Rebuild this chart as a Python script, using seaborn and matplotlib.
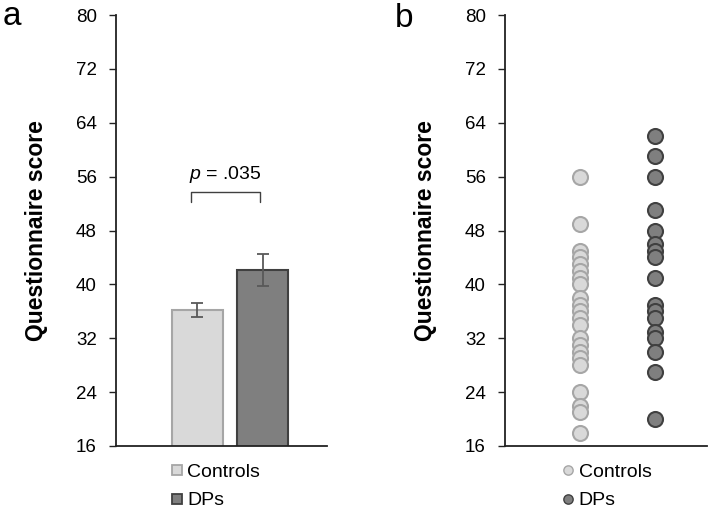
import numpy as np
import pandas as pd
import matplotlib
matplotlib.use("Agg")
import matplotlib.pyplot as plt
import seaborn as sns
from matplotlib.lines import Line2D

# Panel a: group means and standard errors
groups = ["Controls", "DPs"]
bar_means = [36.2, 42.1]
bar_sems = [1.1, 2.4]
p_label = ".035"

# Panel b: individual questionnaire scores
controls_scores = [56, 49, 45, 44, 43, 42, 41, 40, 38, 37, 36, 35, 34, 32,
                   31, 30, 29, 28, 24, 22, 21, 18]
dps_scores = [62, 59, 56, 51, 48, 46, 45, 44, 41, 37, 36, 35, 33, 32, 30, 27, 20]

y_ticks = list(range(16, 81, 8))

fill_colors = {"Controls": "#d9d9d9", "DPs": "#7f7f7f"}
edge_colors = {"Controls": "#a6a6a6", "DPs": "#404040"}

sns.set_style("white")
plt.rcParams["font.family"] = ["Liberation Sans", "DejaVu Sans"]
plt.rcParams["mathtext.fontset"] = "custom"
plt.rcParams["mathtext.it"] = "Liberation Sans:italic"
plt.rcParams["mathtext.rm"] = "Liberation Sans"
plt.rcParams["text.color"] = "black"
plt.rcParams["axes.labelcolor"] = "black"
plt.rcParams["ytick.color"] = "black"

W, H = 708, 508
fig = plt.figure(figsize=(W / 100, H / 100), dpi=100)
ax_a = fig.add_axes([116 / W, 1 - 446 / H, 211 / W, 431 / H])
ax_b = fig.add_axes([505 / W, 1 - 446 / H, 202 / W, 431 / H])


def style_axis(ax):
    ax.set_ylim(16, 80)
    ax.set_yticks(y_ticks)
    ax.tick_params(axis="y", left=True, direction="out", length=4.8, width=1,
                   pad=9, labelsize=13.5, color="#222222", labelcolor="black")
    ax.tick_params(axis="x", bottom=False, labelbottom=False)
    for side in ["top", "right"]:
        ax.spines[side].set_visible(False)
    for side in ["left", "bottom"]:
        ax.spines[side].set_color("#222222")
        ax.spines[side].set_linewidth(1.3)
    ax.set_xlabel("")
    ax.set_ylabel("Questionnaire score", fontsize=16.5, fontweight="bold",
                  color="black")


# ---- panel a: bars with error bars ----
df_bar = pd.DataFrame({"group": groups, "score": bar_means})
sns.barplot(data=df_bar, x="group", y="score", hue="group", ax=ax_a,
            palette=fill_colors, width=0.78, errorbar=None, legend=False)
for patch, g in zip(ax_a.patches, groups):
    patch.set_edgecolor(edge_colors[g])
    patch.set_linewidth(1.5)
ax_a.errorbar(x=np.arange(len(groups)), y=bar_means, yerr=bar_sems, fmt="none",
              ecolor="#595959", elinewidth=1.3, capsize=4, capthick=1.3)
ax_a.set_xlim(-1.24, 1.98)
style_axis(ax_a)
ax_a.yaxis.set_label_coords(-0.32, 0.5)

# significance bracket
ax_a.plot([-0.1, -0.1, 0.965, 0.965], [52.2, 53.7, 53.7, 52.2],
          color="#404040", lw=1)
ax_a.text(0.43, 54.7, f"$p$ = {p_label}", ha="center", va="bottom", fontsize=14)

# ---- panel b: individual scores ----
df_pts = pd.DataFrame({
    "group": ["Controls"] * len(controls_scores) + ["DPs"] * len(dps_scores),
    "score": controls_scores + dps_scores,
})
for g in groups:
    sub = df_pts[df_pts["group"] == g]
    sns.stripplot(data=sub, x="group", y="score", order=groups, ax=ax_b,
                  jitter=False, size=10.8, color=fill_colors[g],
                  edgecolor=edge_colors[g], linewidth=1.5)
ax_b.set_xlim(-1.0, 1.7)
style_axis(ax_b)
ax_b.yaxis.set_label_coords(-0.335, 0.5)

# ---- legends ----
sq_handles = [Line2D([], [], marker="s", ls="none", markersize=6.5,
                     markerfacecolor=fill_colors[g], markeredgecolor=edge_colors[g],
                     markeredgewidth=1.3) for g in groups]
ci_handles = [Line2D([], [], marker="o", ls="none", markersize=6.7,
                     markerfacecolor=fill_colors[g], markeredgecolor=edge_colors[g],
                     markeredgewidth=1.0) for g in groups]
leg_kw = dict(loc="upper left", frameon=False, fontsize=14, borderpad=0,
              borderaxespad=0, handlelength=0.7, handletextpad=0.2,
              labelspacing=0.57, bbox_transform=fig.transFigure)
fig.legend(sq_handles, groups, bbox_to_anchor=(170 / W, 1 - 463 / H), **leg_kw)
fig.legend(ci_handles, groups, bbox_to_anchor=(561 / W, 1 - 463 / H), **leg_kw)

# panel letters
fig.text(3 / W, 1 - 25 / H, "a", fontsize=24, va="baseline", ha="left")
fig.text(395 / W, 1 - 27 / H, "b", fontsize=24, va="baseline", ha="left")

fig.savefig("out.png", dpi=100)
